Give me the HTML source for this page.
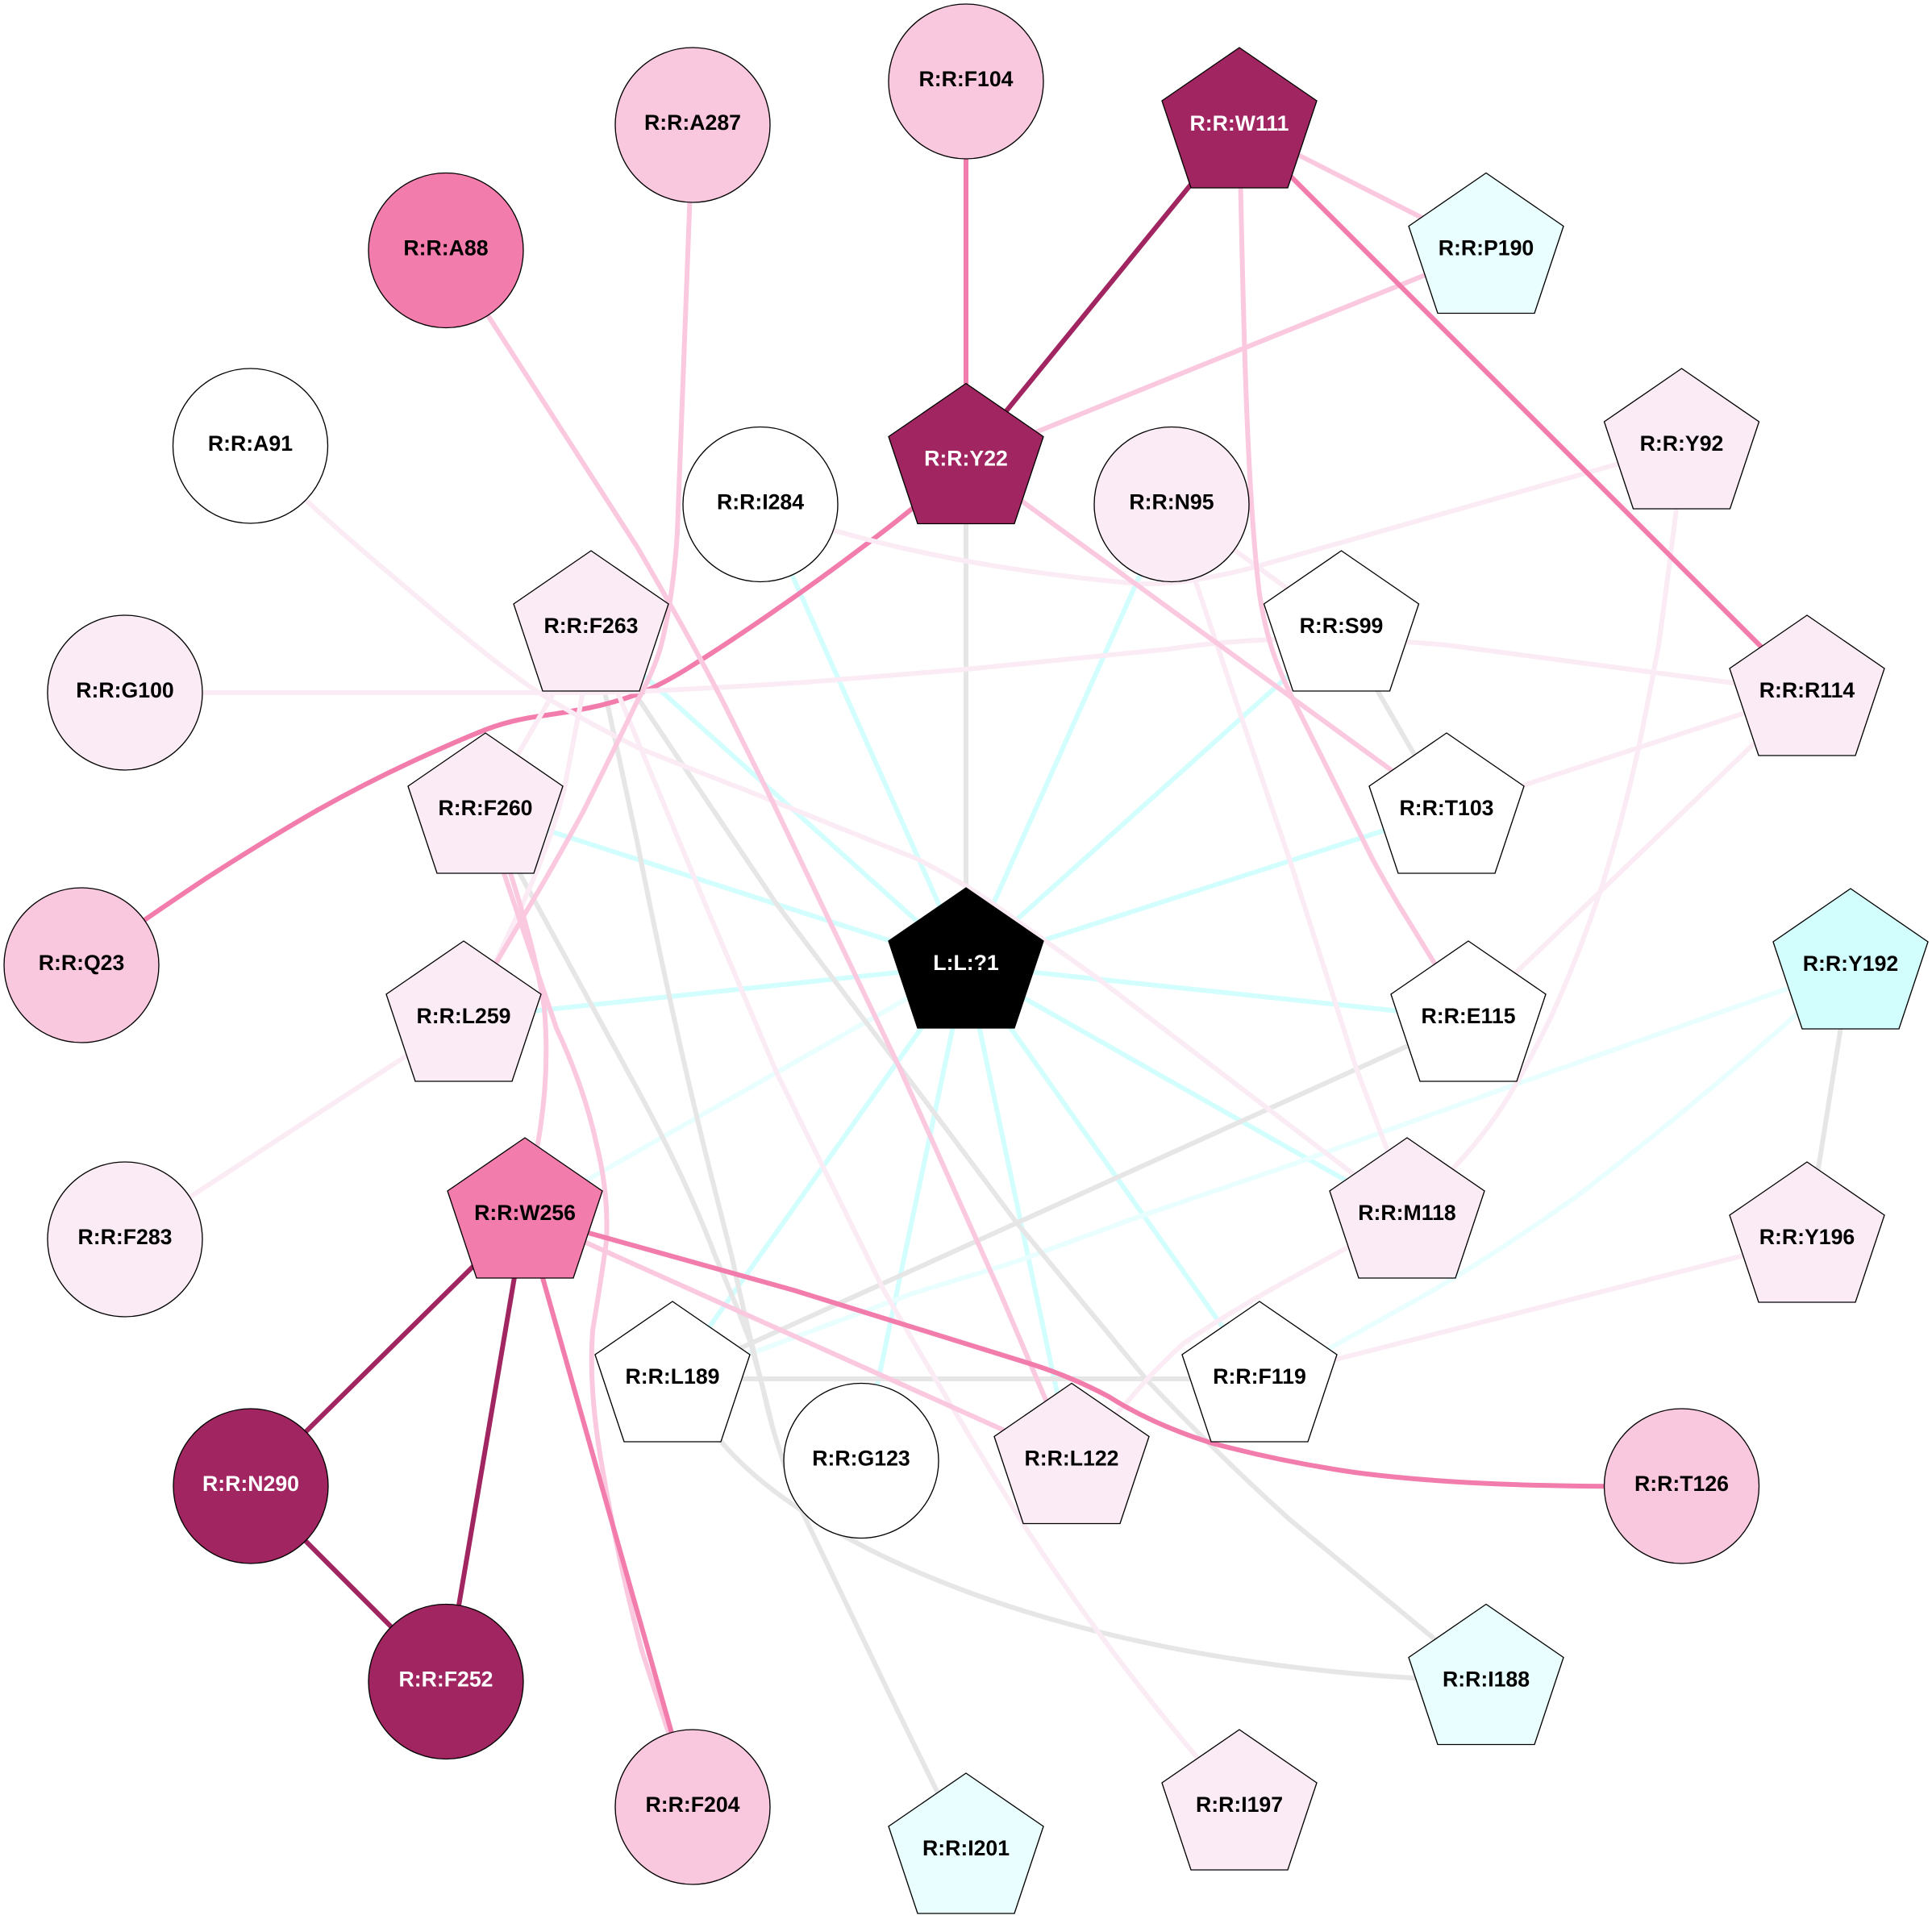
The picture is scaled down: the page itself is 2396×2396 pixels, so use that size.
<!DOCTYPE html>
<html lang="en">
<head>
<meta charset="utf-8">
<title>Residue network</title>
<style>
html,body{margin:0;padding:0;background:#fff;}
svg{display:block;}
path{fill:none;stroke-width:6;stroke-linecap:butt;stroke-linejoin:round;}
.g{stroke:#E6E6E6}.c{stroke:#D3FEFE}.pc{stroke:#E9FEFE}.v{stroke:#FBEBF4}.l{stroke:#FAC8DF}.h{stroke:#F27CAC}.d{stroke:#A02560}
.n polygon,.n circle{stroke:#000;stroke-width:1.33;}
text{font-family:"Liberation Sans",Arial,sans-serif;font-weight:bold;font-size:26.67px;text-anchor:middle;fill:#000;}
text.w{fill:#fff;}
</style>
</head>
<body>
<svg width="2396" height="2396" viewBox="0 0 2396 2396" xmlns="http://www.w3.org/2000/svg">
<rect width="2396" height="2396" fill="#fff"/>
<g>
<!-- cyan hub edges -->
<path class="c" d="M1198 1197L733 779"/>
<path class="c" d="M1198 1197L602 1005"/>
<path class="c" d="M1198 1197L575 1263"/>
<path class="pc" d="M1198 1197L651 1507"/>
<path class="c" d="M1198 1197L943 625"/>
<path class="c" d="M1198 1197L1453 625"/>
<path class="c" d="M1198 1197L1663.5 779"/>
<path class="c" d="M1198 1197L1794 1005"/>
<path class="c" d="M1198 1197L1821 1263"/>
<path class="c" d="M1198 1197L1745 1507"/>
<path class="c" d="M1198 1197L1562 1710"/>
<path class="c" d="M1198 1197L1329 1811.5"/>
<path class="c" d="M1198 1197L1068 1811.5"/>
<path class="c" d="M1198 1197L834 1710"/>
<path class="pc" d="M2295 1198L2217 1226L1885 1343L1600 1445L1412 1509L1259 1565L1132 1604L938 1676L834 1710"/>
<path class="pc" d="M2295 1198L2227 1259Q2090 1380 1955 1484Q1859 1552 1778 1600L1651 1671L1562 1710"/>
<!-- gray edges -->
<path class="g" d="M1198 571L1198 1197"/>
<path class="g" d="M1663.5 779L1794 1005"/>
<path class="g" d="M2295 1198L2241 1537"/>
<path class="g" d="M1821 1263L834 1710"/>
<path class="g" d="M834 1710L1562 1710"/>
<path class="g" d="M733 779L790 1043Q835 1270 880 1450L908 1560Q925 1640 947 1725Q960 1789 995 1875L1105 2105L1198 2295"/>
<path class="g" d="M602 1005L790 1350Q850 1460 888 1560Q910 1610 930 1663L947 1725L957 1765"/>
<path class="g" d="M733 779L843 943L963 1121L1106 1310L1259 1514L1330 1600L1422 1711Q1510 1804 1600 1885L1843 2085.5"/>
<path class="g" d="M834 1710L893 1786C990 1905 1300 2070 1843 2085"/>
<!-- Q23 under light edges -->
<path class="h" d="M1198 571L1164 602Q1131 633 1073 676Q1015 720 957 760Q899 800 859 825Q820 850 790 861Q760 872 730 878Q700 884 670 888Q640 892 613 901Q587 910 523 939Q459 968 395 1004Q332 1040 256 1089Q181 1139 141 1168L101 1197"/>
<!-- very light edges -->
<path class="v" d="M310.5 553Q380 625 484 712Q587 800 625 828Q663 857 691 873Q740 902 793 928Q860 955 920 978L1137 1065Q1198 1096 1246 1131L1361 1213L1745 1507"/>
<path class="v" d="M155 859L720 859Q800 859 1000 846L1198 830L1450 805Q1600 782 1794 800L2241 859"/>
<path class="v" d="M943 625L1035 658Q1198 705 1412 724Q1470 726 1557 703L2085.5 553"/>
<path class="v" d="M1453 625L1663.5 779"/>
<path class="v" d="M1794 1005L2241 859"/>
<path class="v" d="M2241 859L1821 1263"/>
<path class="v" d="M2085.5 553L2079 631Q2068 720 2057 800Q2043 875 2032 928Q2013 1015 1986 1101Q1958 1185 1924.5 1259Q1903.5 1303 1882 1341Q1849 1400 1803 1448L1745 1507"/>
<path class="v" d="M1453 625L1483 722L1570 980L1600 1068L1682 1325L1720 1425L1745 1507"/>
<path class="v" d="M2241 1537L1562 1710"/>
<path class="v" d="M1745 1507L1600 1586Q1520 1630 1468 1666Q1430 1700 1397 1740L1329 1811.5"/>
<path class="v" d="M733 779L602 1005"/>
<path class="v" d="M733 779L722 863L700 977Q685 1040 647 1123L617 1188L575 1263"/>
<path class="v" d="M733 779L877 1127L963 1330L1096 1600Q1178 1743 1269 1890Q1361 2032 1484 2179L1537 2241"/>
<path class="v" d="M155 1537L575 1263"/>
<!-- light pink edges -->
<path class="l" d="M1537 155L1843 310.5"/>
<path class="l" d="M1198 571L1843 310.5"/>
<path class="l" d="M1198 571L1794 1005"/>
<path class="l" d="M1537 155C1541 350 1545 600 1562 737C1570 790 1583 825 1600 860L1702 1065Q1722 1102 1740 1131L1821 1263"/>
<path class="l" d="M859 155L840 660Q835 740 820 800Q812 830 790 870Q763 927 723 1007Q690 1068 653 1130L575 1263"/>
<path class="l" d="M553 310.5L790 678Q861 800 900 877L958 994L1116 1325L1239 1600L1329 1811.5"/>
<path class="l" d="M651 1507L1329 1811.5"/>
<path class="l" d="M602 1005L625 1083L690 1275Q725 1350 740 1420Q755 1480 752 1540Q745 1590 735 1650Q730 1720 745 1809Q765 1930 796 2047L859 2241"/>
<path class="l" d="M602 1005L633 1083Q665 1183 675 1250Q682 1330 668 1412L651 1507"/>
<!-- hot pink edges -->
<path class="h" d="M1198 101L1198 571"/>
<path class="h" d="M1537 155L2241 859"/>
<path class="h" d="M651 1507L859 2241"/>
<path class="h" d="M651 1507L984 1600L1280 1692Q1330 1708 1375 1732Q1430 1767 1504 1790Q1590 1813 1680 1826Q1830 1846 2085.5 1843"/>
<!-- dark edges -->
<path class="d" d="M1537 155L1198 571"/>
<path class="d" d="M651 1507L311 1843"/>
<path class="d" d="M651 1507L553 2085.5"/>
<path class="d" d="M311 1843L553 2085.5"/>
</g>
<g class="n">
<g transform="translate(1198 101)"><circle r="96" fill="#F9C8DE"/><text y="6">R:R:F104</text></g>
<g transform="translate(859 155)"><circle r="96" fill="#F9C8DE"/><text y="6">R:R:A287</text></g>
<g transform="translate(553 310.5)"><circle r="96" fill="#F27CAC"/><text y="6">R:R:A88</text></g>
<g transform="translate(310.5 553)"><circle r="96" fill="#fff"/><text y="6">R:R:A91</text></g>
<g transform="translate(943 625.5)"><circle r="96" fill="#fff"/><text y="6">R:R:I284</text></g>
<g transform="translate(1453 625.5)"><circle r="96" fill="#FBEBF4"/><text y="6">R:R:N95</text></g>
<g transform="translate(155 859)"><circle r="96" fill="#FBEBF4"/><text y="6">R:R:G100</text></g>
<g transform="translate(101 1197)"><circle r="96" fill="#F9C8DE"/><text y="6">R:R:Q23</text></g>
<g transform="translate(155 1537)"><circle r="96" fill="#FBEBF4"/><text y="6">R:R:F283</text></g>
<g transform="translate(311 1843)"><circle r="96" fill="#A02560"/><text class="w" y="6">R:R:N290</text></g>
<g transform="translate(553 2085.5)"><circle r="96" fill="#A02560"/><text class="w" y="6">R:R:F252</text></g>
<g transform="translate(859 2241)"><circle r="96" fill="#F9C8DE"/><text y="6">R:R:F204</text></g>
<g transform="translate(1068 1811.5)"><circle r="96" fill="#fff"/><text y="6">R:R:G123</text></g>
<g transform="translate(2085.5 1843)"><circle r="96" fill="#F9C8DE"/><text y="6">R:R:T126</text></g>

<g transform="translate(1537 155)"><polygon points="0,-96 96,-30 60,78 -60,78 -96,-30" fill="#A02560"/><text class="w" y="7">R:R:W111</text></g>
<g transform="translate(1198 571.5)"><polygon points="0,-96 96,-30 60,78 -60,78 -96,-30" fill="#A02560"/><text class="w" y="6">R:R:Y22</text></g>
<g transform="translate(1843 310.5)"><polygon points="0,-96 96,-30 60,78 -60,78 -96,-30" fill="#E9FEFE"/><text y="6">R:R:P190</text></g>
<g transform="translate(2085.5 553)"><polygon points="0,-96 96,-30 60,78 -60,78 -96,-30" fill="#FBEBF4"/><text y="6">R:R:Y92</text></g>
<g transform="translate(1663.5 779)"><polygon points="0,-96 96,-30 60,78 -60,78 -96,-30" fill="#fff"/><text y="6">R:R:S99</text></g>
<g transform="translate(733 779)"><polygon points="0,-96 96,-30 60,78 -60,78 -96,-30" fill="#FBEBF4"/><text y="6">R:R:F263</text></g>
<g transform="translate(2241 859)"><polygon points="0,-96 96,-30 60,78 -60,78 -96,-30" fill="#FBEBF4"/><text y="6">R:R:R114</text></g>
<g transform="translate(602 1005)"><polygon points="0,-96 96,-30 60,78 -60,78 -96,-30" fill="#FBEBF4"/><text y="6">R:R:F260</text></g>
<g transform="translate(1794 1005)"><polygon points="0,-96 96,-30 60,78 -60,78 -96,-30" fill="#fff"/><text y="6">R:R:T103</text></g>
<g transform="translate(1198 1197)"><polygon points="0,-96 96,-30 60,78 -60,78 -96,-30" fill="#000"/><text class="w" y="6">L:L:?1</text></g>
<g transform="translate(2295 1198)"><polygon points="0,-96 96,-30 60,78 -60,78 -96,-30" fill="#D3FEFE"/><text y="6">R:R:Y192</text></g>
<g transform="translate(575 1263)"><polygon points="0,-96 96,-30 60,78 -60,78 -96,-30" fill="#FBEBF4"/><text y="6">R:R:L259</text></g>
<g transform="translate(1821 1263)"><polygon points="0,-96 96,-30 60,78 -60,78 -96,-30" fill="#fff"/><text y="6">R:R:E115</text></g>
<g transform="translate(651 1507)"><polygon points="0,-96 96,-30 60,78 -60,78 -96,-30" fill="#F27CAC"/><text y="6">R:R:W256</text></g>
<g transform="translate(1745 1507)"><polygon points="0,-96 96,-30 60,78 -60,78 -96,-30" fill="#FBEBF4"/><text y="6">R:R:M118</text></g>
<g transform="translate(2241 1537)"><polygon points="0,-96 96,-30 60,78 -60,78 -96,-30" fill="#FBEBF4"/><text y="6">R:R:Y196</text></g>
<g transform="translate(834 1710)"><polygon points="0,-96 96,-30 60,78 -60,78 -96,-30" fill="#fff"/><text y="6">R:R:L189</text></g>
<g transform="translate(1562 1710)"><polygon points="0,-96 96,-30 60,78 -60,78 -96,-30" fill="#fff"/><text y="6">R:R:F119</text></g>
<g transform="translate(1329 1811.5)"><polygon points="0,-96 96,-30 60,78 -60,78 -96,-30" fill="#FBEBF4"/><text y="6">R:R:L122</text></g>
<g transform="translate(1843 2085.5)"><polygon points="0,-96 96,-30 60,78 -60,78 -96,-30" fill="#E9FEFE"/><text y="6">R:R:I188</text></g>
<g transform="translate(1537 2241)"><polygon points="0,-96 96,-30 60,78 -60,78 -96,-30" fill="#FBEBF4"/><text y="6">R:R:I197</text></g>
<g transform="translate(1198 2295)"><polygon points="0,-96 96,-30 60,78 -60,78 -96,-30" fill="#E9FEFE"/><text y="6">R:R:I201</text></g>
</g>
</svg>
</body>
</html>
